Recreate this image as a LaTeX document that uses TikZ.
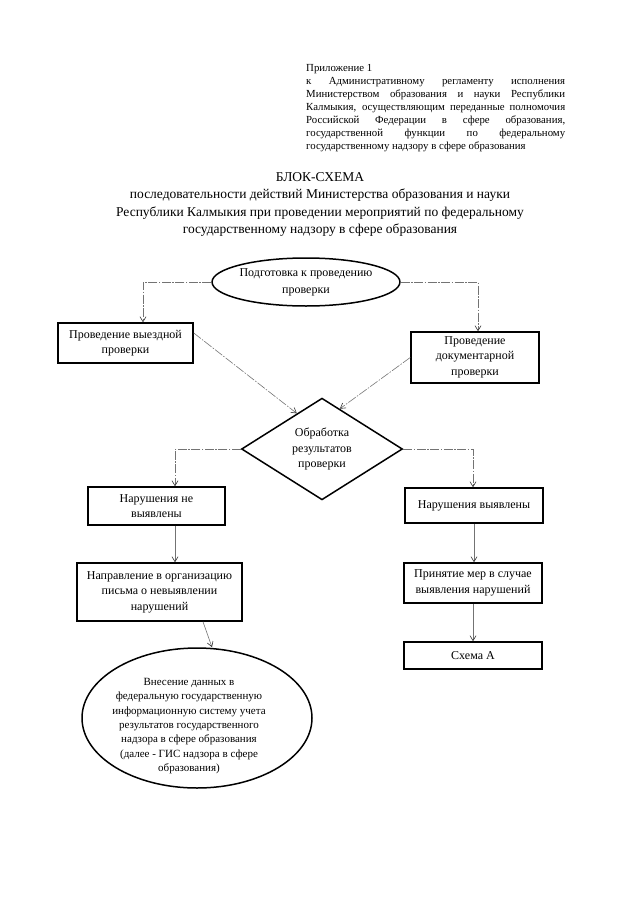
\documentclass[tikz,border=0pt]{standalone}
\usepackage{fontspec}
\setmainfont{Liberation Serif}
\usetikzlibrary{shapes.geometric,arrows.meta,calc}
\begin{document}
\begin{tikzpicture}[x=1pt,y=-1pt,
  every node/.style={inner sep=0pt},
  boxnode/.style={draw, line width=1.5pt, align=center, font=\fontsize{12}{15.5}\selectfont},
  ovalnode/.style={draw, ellipse, line width=1.5pt, align=center},
  conn/.style={draw=black!55, line width=0.6pt, dash pattern=on 9pt off 1.5pt on 1.5pt off 1.5pt,
    -{Straight Barb[length=5pt,width=6pt,black!80]}},
  connsolid/.style={draw=black!55, line width=0.6pt, -{Straight Barb[length=5pt,width=6pt,black!80]}}
]
\useasboundingbox (0,0) rectangle (640,905);

% appendix text
\node[anchor=north west, text width=259pt, align=justify,
  font=\fontsize{10.8}{13}\selectfont] (appx) at (306,64)
{\noindent Приложение 1\\
к Административному регламенту исполнения\linebreak
Министерством образования и науки Республики\linebreak
Калмыкия, осуществляющим переданные полномочия\linebreak
Российской Федерации в сфере образования,\linebreak
государственной функции по федеральному\linebreak
государственному надзору в сфере образования};

% title
\node[anchor=north, align=center, font=\fontsize{13.5}{17.5}\selectfont] (title) at (320,172)
{БЛОК-СХЕМА\\
последовательности действий Министерства образования и науки\\
Республики Калмыкия при проведении мероприятий по федеральному\\
государственному надзору в сфере образования};

\node[ovalnode, minimum width=172pt, minimum height=48pt, font=\fontsize{12}{17}\selectfont] (prep) at (306,282)
{Подготовка к проведению\\проверки};

\node[boxnode, minimum width=135pt, minimum height=40pt] (vyezd) at (125.5,343)
{Проведение выездной\\проверки};
\node[boxnode, minimum width=128pt, minimum height=51pt, text depth=3pt] (doc) at (475,357.5)
{Проведение\\документарной\\проверки};

\node[draw, diamond, line width=1.5pt, minimum width=161pt, minimum height=96pt, align=center,
  font=\fontsize{12}{15.5}\selectfont] (dia) at (322,449)
{Обработка\\результатов\\проверки};

\node[boxnode, minimum width=137pt, minimum height=38pt] (nonv) at (156.5,506)
{Нарушения не\\выявлены};
\node[boxnode, minimum width=138pt, minimum height=35pt] (vyav) at (474,505.5)
{Нарушения выявлены};

\node[boxnode, minimum width=165pt, minimum height=58pt] (napr) at (159.5,592)
{Направление в организацию\\письма о невыявлении\\нарушений};
\node[boxnode, minimum width=138pt, minimum height=40pt] (mery) at (473,583)
{Принятие мер в случае\\выявления нарушений};
\node[boxnode, minimum width=138pt, minimum height=27pt] (shema) at (473,655.5)
{Схема А};

\node[ovalnode, minimum width=230pt, minimum height=140pt] (gis) at (197,718) {};
\node[align=center, font=\fontsize{11}{14.3}\selectfont] (gistext) at (189,726)
{Внесение данных в\\
федеральную государственную\\
информационную систему учета\\
результатов государственного\\
надзора в сфере образования\\
(далее - ГИС надзора в сфере\\
образования)};

% connectors
\draw[conn] (prep.west) -| ([xshift=17.5pt]vyezd.north);
\draw[conn] (prep.east) -| ([xshift=3pt]doc.north);
\draw[conn] ([yshift=10pt]vyezd.east) -- ($(dia.north)!0.31!(dia.west)$);
\draw[conn] (doc.west) -- ($(dia.north)!0.22!(dia.east)$);
\draw[conn] (dia.west) -| ([xshift=18.5pt]nonv.north);
\draw[conn] (dia.east) -| ([xshift=-1pt]vyav.north);
\draw[connsolid] ([xshift=18.5pt]nonv.south) -- ([xshift=18.5pt]nonv.south |- napr.north);
\draw[connsolid] (vyav.south) -- (vyav.south |- mery.north);
\draw[connsolid] (mery.south) -- (shema.north);
\draw[connsolid] ([xshift=43.5pt]napr.south) -- ([xshift=15pt]gis.north);
\end{tikzpicture}
\end{document}
